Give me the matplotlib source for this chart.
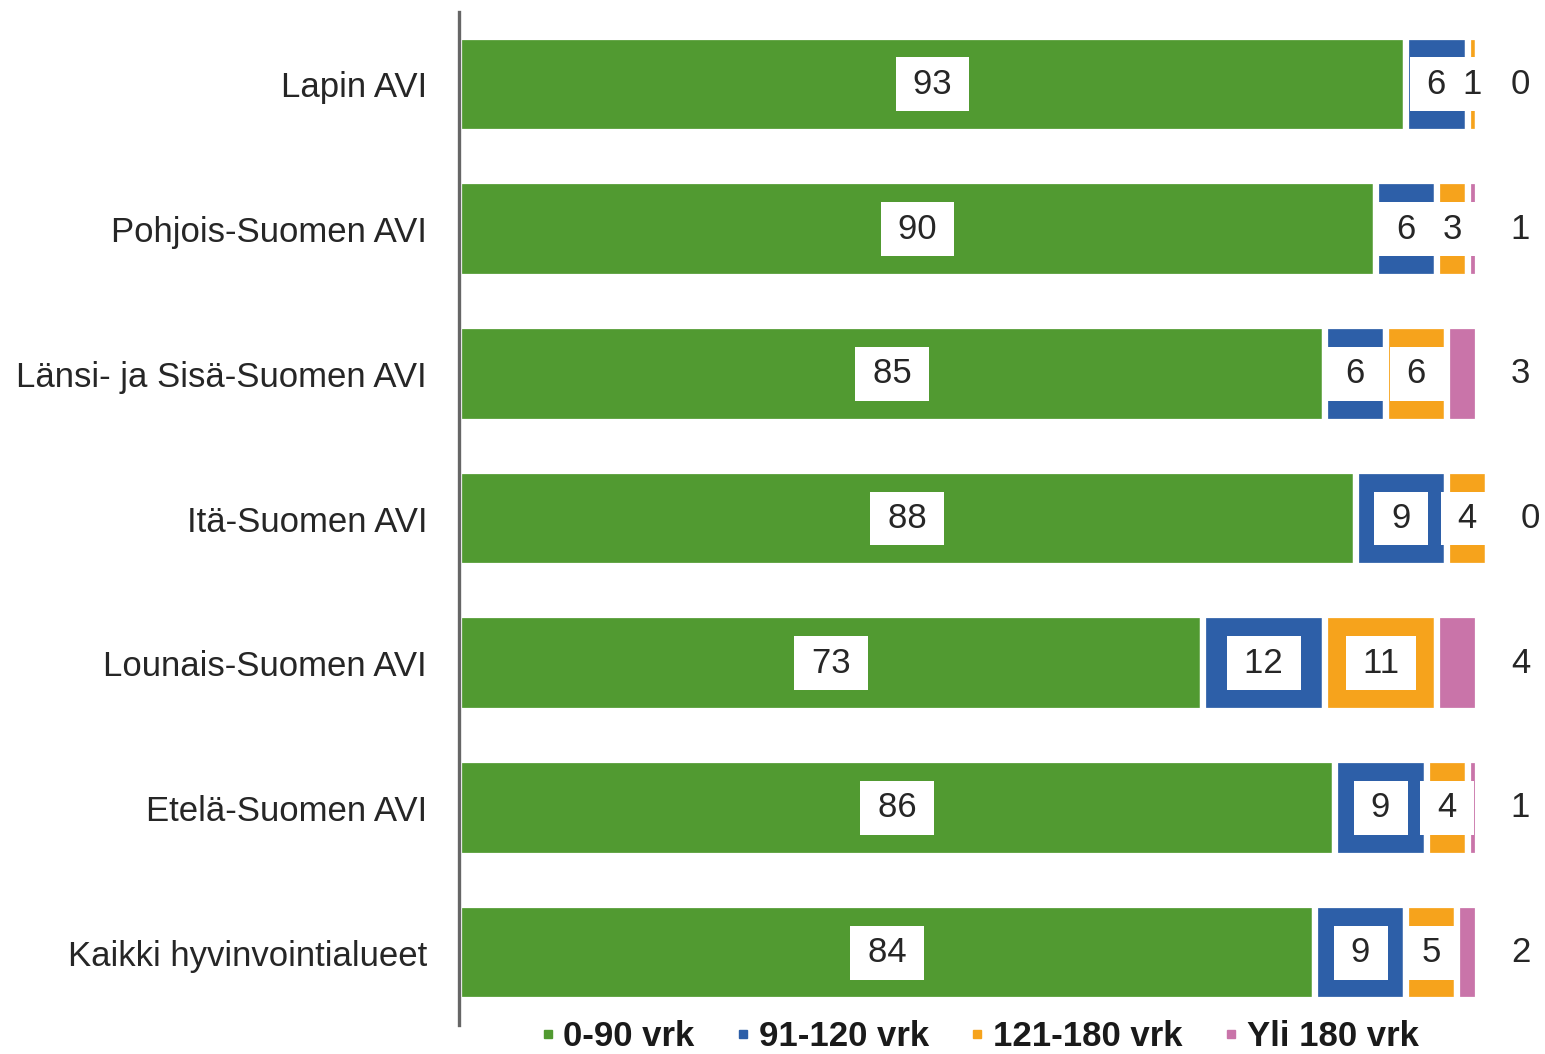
import matplotlib.pyplot as plt
from matplotlib.lines import Line2D

categories = ['Lapin AVI', 'Pohjois-Suomen AVI', 'Länsi- ja Sisä-Suomen AVI',
              'Itä-Suomen AVI', 'Lounais-Suomen AVI', 'Etelä-Suomen AVI',
              'Kaikki hyvinvointialueet']
series = ['0-90 vrk', '91-120 vrk', '121-180 vrk', 'Yli 180 vrk']
v_0_90 = [93, 90, 85, 88, 73, 86, 84]
v_91_120 = [6, 6, 6, 9, 12, 9, 9]
v_121_180 = [1, 3, 6, 4, 11, 4, 5]
v_yli_180 = [0, 1, 3, 0, 4, 1, 2]
colors = ['#519A31', '#2D5FA8', '#F6A31C', '#C974A9']

plt.rcParams['font.family'] = ['Liberation Sans', 'DejaVu Sans']

fig = plt.figure(figsize=(15.45, 10.54), dpi=100)
ax = fig.add_axes([459 / 1545, 29 / 1054, 1 - 459 / 1545, (1025 - 12) / 1054])

values = [v_0_90, v_91_120, v_121_180, v_yli_180]
ypos = list(range(len(categories)))
left = [0] * len(categories)
for i, vals in enumerate(values):
    ax.barh(ypos, vals, left=left, height=0.66, color=colors[i],
            edgecolor='white', linewidth=4.5, label=series[i])
    for y, v, l in zip(ypos, vals, left):
        if i < 3:
            ax.text(l + v / 2, y, '\u2009' + str(v) + '\u2009', ha='center', va='center',
                    fontsize=25, color='#262626',
                    bbox=dict(boxstyle='square,pad=0.3', fc='white', ec='none'))
        else:
            ax.text(l + v + 4.2, y, str(v), ha='center', va='center',
                    fontsize=25, color='#262626')
    left = [a + b for a, b in zip(left, vals)]

ax.set_xlim(0, 106.6)
ax.set_ylim(len(categories) - 0.5, -0.5)
ax.set_yticks(ypos)
ax.set_yticklabels(categories, fontsize=25, color='#262626')
ax.tick_params(axis='y', length=0, pad=23)
ax.set_xticks([])
for s in ['top', 'right', 'bottom']:
    ax.spines[s].set_visible(False)
ax.spines['left'].set_color('#666666')
ax.spines['left'].set_linewidth(2.4)

handles = [Line2D([], [], marker='s', linestyle='none', markersize=6,
                  markerfacecolor=c, markeredgecolor=c) for c in colors]
leg = fig.legend(handles, series, loc='center', bbox_to_anchor=(977 / 1545, 1 - 1037 / 1054),
                 ncol=4, frameon=False, handletextpad=0.1, columnspacing=1.05,
                 prop={'size': 25, 'weight': 'bold'}, handlelength=0.7)
for t in leg.get_texts():
    t.set_color('#1a1a1a')

plt.savefig('out.png', dpi=100, facecolor='white')
